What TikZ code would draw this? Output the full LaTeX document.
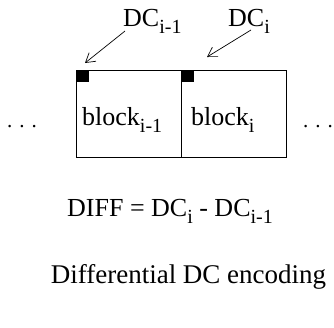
\documentclass[tikz,border=0pt]{standalone}
\usepackage{fontspec}
\setmainfont{Liberation Serif}
\usetikzlibrary{arrows.meta}
\newcommand{\mysb}[1]{\raisebox{-7pt}{\fontsize{20}{20}\selectfont #1}}
\begin{document}
\begin{tikzpicture}[x=1pt,y=-1pt,
  blk/.style={draw,line width=0.8pt,minimum width=105pt,minimum height=87pt,inner sep=0pt,anchor=north west},
  lbl/.style={font=\fontsize{26}{26}\selectfont,inner sep=0pt},
  dts/.style={font=\fontsize{21}{21}\selectfont,inner sep=0pt},
  arr/.style={line width=0.7pt,-{Straight Barb[length=9pt,width=11pt,line width=0.7pt]}},
  sq/.style={fill=black,inner sep=0pt,minimum width=13pt,minimum height=12pt,anchor=north west}]
\useasboundingbox (0,0) rectangle (334,327);
\node[blk] (b1) at (76,70) {};
\node[blk] (b2) at (181,70) {};
\node[sq] (s1) at (76,70) {};
\node[sq] (s2) at (181,70) {};
\node[lbl,anchor=base west] (t1) at (82,125) {block\mysb{i-1}};
\node[lbl,anchor=base west] (t2) at (191,125) {block\mysb{i}};
\node[dts,anchor=base] (d1) at (22,127) {. . .};
\node[dts,anchor=base] (d2) at (318,127) {. . .};
\node[lbl,anchor=base west] (c1) at (123,26) {DC\mysb{i-1}};
\node[lbl,anchor=base west] (c2) at (228,26) {DC\mysb{i}};
\coordinate (a1s) at (125,31);
\coordinate (a1e) at (85,63);
\coordinate (a2s) at (251,30);
\coordinate (a2e) at (207,57);
\draw[arr] (a1s) -- (a1e);
\draw[arr] (a2s) -- (a2e);
\node[lbl,anchor=base] (diff) at (170,216) {DIFF = DC\mysb{i} - DC\mysb{i-1}};
\node[lbl,anchor=base,font=\fontsize{27}{27}\selectfont] (cap) at (188.5,283) {Differential DC encoding};
\end{tikzpicture}
\end{document}
